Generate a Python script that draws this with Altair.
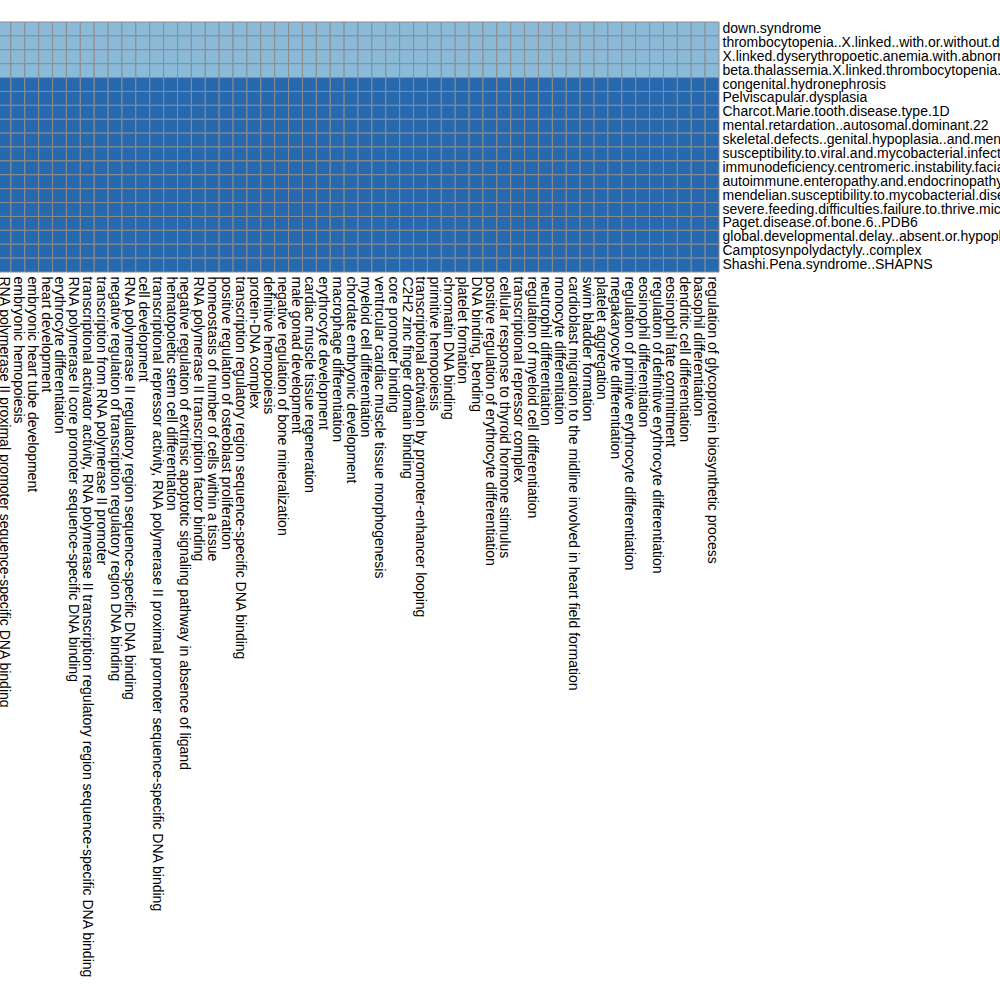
import altair as alt
import pandas as pd

diseases = [
    "down.syndrome",
    "thrombocytopenia..X.linked..with.or.without.dy",
    "X.linked.dyserythropoetic.anemia.with.abnorr",
    "beta.thalassemia.X.linked.thrombocytopenia.",
    "congenital.hydronephrosis",
    "Pelviscapular.dysplasia",
    "Charcot.Marie.tooth.disease.type.1D",
    "mental.retardation..autosomal.dominant.22",
    "skeletal.defects..genital.hypoplasia..and.men",
    "susceptibility.to.viral.and.mycobacterial.infect",
    "immunodeficiency.centromeric.instability.facia",
    "autoimmune.enteropathy.and.endocrinopathy",
    "mendelian.susceptibility.to.mycobacterial.dise",
    "severe.feeding.difficulties.failure.to.thrive.mic",
    "Paget.disease.of.bone.6..PDB6",
    "global.developmental.delay..absent.or.hypopl",
    "Camptosynpolydactyly..complex",
    "Shashi.Pena.syndrome..SHAPNS",
]

# level per disease row (same across all terms)
row_levels = [1, 1, 1, 1, 2, 2, 2, 2, 2, 2, 2, 2, 2, 2, 2, 2, 2, 2]

terms = [
    "RNA polymerase II proximal promoter sequence-specific DNA binding",
    "embryonic hemopoiesis",
    "embryonic heart tube development",
    "heart development",
    "erythrocyte differentiation",
    "RNA polymerase II core promoter sequence-specific DNA binding",
    "transcriptional activator activity, RNA polymerase II transcription regulatory region sequence-specific DNA binding",
    "transcription from RNA polymerase II promoter",
    "negative regulation of transcription regulatory region DNA binding",
    "RNA polymerase II regulatory region sequence-specific DNA binding",
    "cell development",
    "transcriptional repressor activity, RNA polymerase II proximal promoter sequence-specific DNA binding",
    "hematopoietic stem cell differentiation",
    "negative regulation of extrinsic apoptotic signaling pathway in absence of ligand",
    "RNA polymerase II transcription factor binding",
    "homeostasis of number of cells within a tissue",
    "positive regulation of osteoblast proliferation",
    "transcription regulatory region sequence-specific DNA binding",
    "protein-DNA complex",
    "definitive hemopoiesis",
    "negative regulation of bone mineralization",
    "male gonad development",
    "cardiac muscle tissue regeneration",
    "erythrocyte development",
    "macrophage differentiation",
    "chordate embryonic development",
    "myeloid cell differentiation",
    "ventricular cardiac muscle tissue morphogenesis",
    "core promoter binding",
    "C2H2 zinc finger domain binding",
    "transcriptional activation by promoter-enhancer looping",
    "primitive hemopoiesis",
    "chromatin DNA binding",
    "platelet formation",
    "DNA binding, bending",
    "positive regulation of erythrocyte differentiation",
    "cellular response to thyroid hormone stimulus",
    "transcriptional repressor complex",
    "regulation of myeloid cell differentiation",
    "neutrophil differentiation",
    "monocyte differentiation",
    "cardioblast migration to the midline involved in heart field formation",
    "swim bladder formation",
    "platelet aggregation",
    "megakaryocyte differentiation",
    "regulation of primitive erythrocyte differentiation",
    "eosinophil differentiation",
    "regulation of definitive erythrocyte differentiation",
    "eosinophil fate commitment",
    "dendritic cell differentiation",
    "basophil differentiation",
    "regulation of glycoprotein biosynthetic process",
]

colors = ["#8bbad9", "#2769ae"]

records = []
for d, lvl in zip(diseases, row_levels):
    for t in terms:
        records.append({"disease": d, "term": t, "level": lvl})
df = pd.DataFrame(records)

chart = (
    alt.Chart(df)
    .mark_rect(stroke="#8c8c8c", strokeWidth=1)
    .encode(
        x=alt.X(
            "term:N",
            sort=terms,
            title=None,
            scale=alt.Scale(paddingInner=0, paddingOuter=0),
            axis=alt.Axis(
                orient="bottom",
                labelAngle=90,
                labelAlign="left",
                labelBaseline="middle",
                ticks=False,
                domain=False,
                labelPadding=4,
                labelFont="Liberation Sans",
                labelFontSize=14,
                labelColor="#000000",
                labelLimit=1000,
            ),
        ),
        y=alt.Y(
            "disease:N",
            sort=diseases,
            title=None,
            scale=alt.Scale(paddingInner=0, paddingOuter=0),
            axis=alt.Axis(
                orient="right",
                ticks=False,
                domain=False,
                labelPadding=3,
                labelFont="Liberation Sans",
                labelFontSize=14,
                labelColor="#000000",
                labelLimit=1000,
            ),
        ),
        color=alt.Color(
            "level:O",
            scale=alt.Scale(domain=[1, 2], range=colors),
            legend=None,
        ),
    )
    .properties(
        width=722,
        height=250,
        padding={"left": -3, "top": 22, "right": 281, "bottom": 728},
        autosize=alt.AutoSizeParams(type="none"),
    )
    .configure_view(stroke=None)
    .configure_axis(grid=False)
)

chart.save("out.html", embed_options={"renderer": "svg", "actions": False})
